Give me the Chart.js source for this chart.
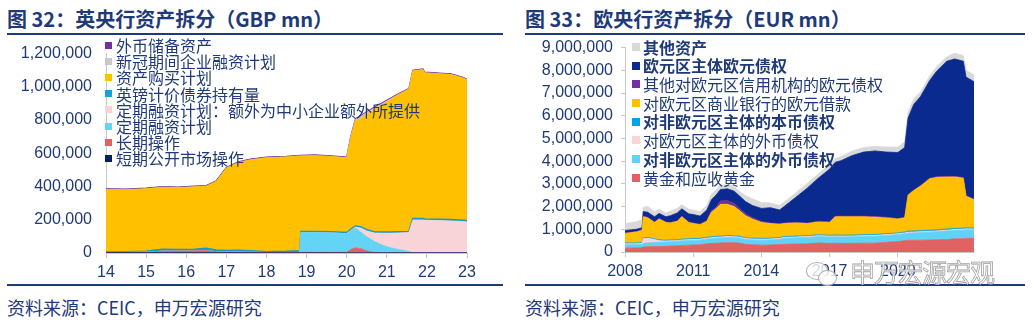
<!DOCTYPE html>
<html>
<head>
<meta charset="utf-8">
<script src="https://cdn.jsdelivr.net/npm/chart.js@4.4.0/dist/chart.umd.min.js"></script>
<style>
  body { margin: 0; width: 1033px; height: 322px; background: #fff; position: relative; overflow: hidden;
         font-family: "Noto Sans CJK SC", "Noto Sans", sans-serif; color: #1f3a78; }
  .title { position: absolute; top: 5px; font-size: 20px; font-weight: bold; line-height: 28px; white-space: nowrap; }
  .rule { position: absolute; height: 2px; background: #1f3a78; }
  .src { position: absolute; top: 294px; font-size: 18px; line-height: 26px; white-space: nowrap; }
  .box { position: absolute; top: 30px; height: 260px; }
  .legend { position: absolute; font-size: 16px; white-space: nowrap; }
  .legend div { position: relative; padding-left: 11px; }
  .legend i { position: absolute; left: 0; }
  #ukLegend { left: 105px; top: 37px; line-height: 16.2px; }
  #ukLegend i { width: 7px; height: 7px; top: 4.6px; }
  #euLegend { left: 632px; top: 37.6px; line-height: 18.7px; }
  #euLegend i { width: 8px; height: 8px; top: 5.3px; }
  .wm { position: absolute; left: 850px; top: 256px; font-size: 25px; line-height: 30px; color: rgba(255,255,255,0.85);
        letter-spacing: -1px; -webkit-text-stroke: 0.8px #a0a0a0; }
  .bubble { position: absolute; border: 1.5px solid #b0b0b0; border-radius: 50%; background: rgba(255,255,255,0.8); }
</style>
</head>
<body>
<div class="title" style="left:7px">图 32：英央行资产拆分（GBP mn）</div>
<div class="rule" style="left:7px; top:33px; width:496px"></div>
<div class="title" style="left:525px">图 33：欧央行资产拆分（EUR mn）</div>
<div class="rule" style="left:525px; top:33px; width:500px"></div>

<div class="box" style="left:0; width:505px"><canvas id="ukChart"></canvas></div>
<div class="box" style="left:515px; width:518px"><canvas id="euChart"></canvas></div>

<div class="legend" id="ukLegend"></div>
<div class="legend" id="euLegend"></div>

<div class="rule" style="left:7px; top:284px; width:496px"></div>
<div class="rule" style="left:525px; top:284px; width:500px"></div>
<div class="src" style="left:7px">资料来源：CEIC，申万宏源研究</div>
<div class="src" style="left:525px">资料来源：CEIC，申万宏源研究</div>

<div class="bubble" style="left:806px; top:262px; width:20px; height:16px"></div>
<div class="bubble" style="left:818px; top:270px; width:17px; height:14px"></div>
<div class="wm">申万宏源宏观</div>

<script>
// ---- Bank of England, GBP mn ----
const ukDates = [2014.0, 2014.5, 2015.0, 2015.4, 2015.8, 2016.2, 2016.5, 2016.75, 2017.0, 2017.3,
  2017.6, 2018.0, 2018.5, 2018.83, 2018.86, 2019.2, 2019.6, 2020.0, 2020.1, 2020.22,
  2020.35, 2020.5, 2020.7, 2020.9, 2021.1, 2021.3, 2021.55, 2021.65, 2021.9, 2021.95,
  2022.3, 2022.6, 2022.9, 2023.0];
const ukShortOmo = [2000, 2000, 2000, 2000, 2000, 2000, 2000, 2000, 2000, 2000,
  2000, 1000, 1000, 1000, 1000, 1000, 1000, 1000, 1000, 1000,
  1000, 1000, 1000, 1000, 1000, 1000, 1000, 1000, 1000, 1000,
  1000, 1000, 1000, 1000];
const ukLongOps = [2000, 2000, 3000, 9000, 10000, 11000, 12000, 6000, 4000, 4000,
  3000, 2000, 2000, 2000, 3000, 3000, 3000, 3000, 20000, 30000,
  25000, 12000, 2000, 0, 0, 0, 0, 0, 0, 0,
  0, 0, 0, 0];
const ukTfs = [0, 0, 0, 0, 0, 0, 0, 0, 0, 0,
  0, 0, 0, 0, 119000, 119000, 117000, 112000, 115000, 120000,
  100000, 85000, 65000, 45000, 30000, 20000, 8000, 0, 0, 0,
  0, 0, 0, 0];
const ukTfsme = [0, 0, 0, 0, 0, 0, 0, 0, 0, 0,
  0, 0, 0, 0, 0, 0, 0, 0, 0, 5000,
  25000, 35000, 52000, 73000, 88000, 100000, 114000, 198000, 198000, 196000,
  194000, 192000, 188000, 186000];
const ukSterlingBonds = [4000, 3000, 6000, 11000, 9000, 9000, 14000, 10000, 9000, 10000,
  8000, 5000, 7000, 11000, 7000, 7000, 7000, 7000, 7000, 7000,
  7000, 7000, 7000, 7000, 7000, 7000, 7000, 8000, 8000, 8000,
  8000, 8000, 8000, 8000];
const ukApf = [374000, 374000, 375000, 374000, 372000, 376000, 374000, 413000, 496000, 528000,
  548000, 565000, 568000, 570000, 454000, 456000, 453000, 450000, 549000, 633000,
  652000, 694000, 737000, 767000, 798000, 826000, 856000, 889000, 897000, 879000,
  876000, 873000, 857000, 846000];
const ukCcff = [0, 0, 0, 0, 0, 0, 0, 0, 0, 0,
  0, 0, 0, 0, 0, 0, 0, 0, 4000, 8000,
  12000, 12000, 10000, 8000, 5000, 2000, 0, 0, 0, 0,
  0, 0, 0, 0];
const ukFxReserves = [4000, 4000, 4000, 4000, 4000, 4000, 4000, 4000, 4000, 4000,
  4000, 4000, 4000, 4000, 4000, 4000, 4000, 4000, 4000, 4000,
  4000, 4000, 4000, 4000, 4000, 4000, 4000, 4000, 4000, 4000,
  4000, 4000, 4000, 4000];

// ---- ECB, EUR mn ----
const euDates = [2008.0, 2008.5, 2008.75, 2008.8, 2009.0, 2009.3, 2009.5, 2009.8, 2010.0, 2010.3,
  2010.5, 2010.8, 2011.0, 2011.3, 2011.6, 2011.8, 2012.0, 2012.2, 2012.5, 2012.8,
  2013.0, 2013.3, 2013.6, 2014.0, 2014.4, 2014.8, 2015.0, 2015.5, 2016.0, 2016.5,
  2017.0, 2017.25, 2017.5, 2018.0, 2018.5, 2019.0, 2019.5, 2020.0, 2020.3, 2020.45,
  2020.7, 2021.0, 2021.4, 2021.7, 2022.15, 2022.5, 2022.88, 2023.0, 2023.35];
const euGold = [170000, 180000, 190000, 220000, 230000, 240000, 240000, 250000, 260000, 270000,
  290000, 300000, 310000, 320000, 360000, 380000, 390000, 400000, 410000, 410000,
  400000, 340000, 320000, 300000, 310000, 330000, 340000, 350000, 360000, 400000,
  380000, 390000, 380000, 380000, 390000, 390000, 430000, 460000, 500000, 520000,
  520000, 520000, 530000, 540000, 550000, 580000, 580000, 600000, 600000];
const euFxNonEa = [150000, 140000, 140000, 160000, 170000, 180000, 190000, 190000, 190000, 190000,
  200000, 200000, 200000, 200000, 210000, 210000, 220000, 220000, 230000, 220000,
  220000, 210000, 210000, 220000, 220000, 230000, 260000, 270000, 280000, 280000,
  280000, 280000, 280000, 290000, 290000, 300000, 300000, 300000, 300000, 310000,
  320000, 330000, 340000, 350000, 370000, 370000, 380000, 380000, 370000];
const euFxEa = [40000, 40000, 50000, 200000, 200000, 130000, 70000, 40000, 40000, 40000,
  40000, 40000, 40000, 40000, 40000, 40000, 40000, 40000, 40000, 40000,
  40000, 40000, 40000, 40000, 40000, 40000, 40000, 40000, 40000, 40000,
  40000, 40000, 40000, 40000, 40000, 40000, 40000, 40000, 40000, 40000,
  40000, 40000, 40000, 40000, 40000, 40000, 40000, 40000, 40000];
const euEurNonEa = [40000, 40000, 40000, 40000, 40000, 30000, 40000, 40000, 40000, 40000,
  40000, 40000, 40000, 40000, 40000, 40000, 40000, 40000, 40000, 40000,
  40000, 40000, 40000, 40000, 40000, 40000, 40000, 40000, 40000, 40000,
  40000, 40000, 40000, 40000, 40000, 40000, 40000, 40000, 40000, 50000,
  50000, 50000, 50000, 50000, 50000, 50000, 50000, 50000, 50000];
const euBankLoans = [420000, 480000, 530000, 930000, 860000, 720000, 910000, 780000, 750000, 810000,
  980000, 720000, 660000, 600000, 700000, 1080000, 1210000, 1400000, 1380000, 1290000,
  1150000, 970000, 840000, 700000, 640000, 580000, 570000, 580000, 530000, 560000,
  560000, 800000, 810000, 800000, 790000, 760000, 690000, 610000, 620000, 1580000,
  1770000, 1960000, 2260000, 2300000, 2290000, 2260000, 2200000, 1380000, 1240000];
const euOtherCredit = [20000, 20000, 20000, 30000, 30000, 20000, 20000, 20000, 20000, 20000,
  20000, 20000, 30000, 30000, 30000, 50000, 70000, 150000, 160000, 140000,
  100000, 80000, 60000, 40000, 30000, 30000, 30000, 30000, 30000, 30000,
  30000, 30000, 30000, 30000, 30000, 30000, 30000, 30000, 30000, 30000,
  30000, 30000, 30000, 30000, 30000, 30000, 30000, 30000, 30000];
const euSecurities = [110000, 100000, 100000, 200000, 220000, 230000, 230000, 230000, 300000, 350000,
  330000, 360000, 370000, 350000, 470000, 500000, 530000, 500000, 520000, 540000,
  550000, 540000, 540000, 580000, 670000, 600000, 720000, 1090000, 1520000, 1900000,
  2320000, 2370000, 2440000, 2670000, 2820000, 2890000, 2870000, 2900000, 3070000, 3370000,
  3770000, 3920000, 4300000, 4640000, 5070000, 5170000, 5120000, 5220000, 5170000];
const euOther = [300000, 330000, 350000, 190000, 250000, 230000, 180000, 170000, 200000, 200000,
  180000, 200000, 200000, 200000, 200000, 250000, 220000, 200000, 180000, 220000,
  200000, 260000, 300000, 260000, 210000, 200000, 200000, 200000, 200000, 200000,
  200000, 170000, 180000, 200000, 200000, 200000, 220000, 240000, 250000, 250000,
  250000, 200000, 200000, 200000, 200000, 250000, 250000, 300000, 300000];
const euYearTicks = [2008, 2011, 2014, 2017, 2020];

// stacking order: bottom layer first
const ukLayers = [
  { name: '短期公开市场操作', values: ukShortOmo, color: '#002060' },
  { name: '长期操作', values: ukLongOps, color: '#e06262' },
  { name: '定期融资计划', values: ukTfs, color: '#64d4f6' },
  { name: '定期融资计划：额外为中小企业额外所提供', values: ukTfsme, color: '#f8d3d8' },
  { name: '英镑计价债券持有量', values: ukSterlingBonds, color: '#12a3dc', line: '#1a98c8', width: 1.5 },
  { name: '资产购买计划', values: ukApf, color: '#ffc000' },
  { name: '新冠期间企业融资计划', values: ukCcff, color: '#c8c8c8' },
  { name: '外币储备资产', values: ukFxReserves, color: '#7030a0', width: 1.2 }
];
const euLayers = [
  { name: '黄金和应收黄金', values: euGold, color: '#e06262' },
  { name: '对非欧元区主体的外币债权', values: euFxNonEa, color: '#5fd3f7', bold: true },
  { name: '对欧元区主体的外币债权', values: euFxEa, color: '#f9d5da' },
  { name: '对非欧元区主体的本币债权', values: euEurNonEa, color: '#00a3e6', bold: true },
  { name: '对欧元区商业银行的欧元借款', values: euBankLoans, color: '#ffc000' },
  { name: '其他对欧元区信用机构的欧元债权', values: euOtherCredit, color: '#7030a0' },
  { name: '欧元区主体欧元债权', values: euSecurities, color: '#0a2a8f', bold: true },
  { name: '其他资产', values: euOther, color: '#d9d9d9', bold: true }
];

const axisColor = '#c8c8c8';
const labelFont = { family: '"Liberation Sans", Arial, sans-serif', size: 16 };
const labelColor = '#1f3a78';

function makeStack(id, dates, layers, o) {
  return new Chart(document.getElementById(id), {
    type: 'line',
    data: {
      datasets: layers.map((s, i) => ({
        label: s.name,
        data: dates.map((d, j) => ({ x: d, y: s.values[j] })),
        backgroundColor: s.color,
        borderColor: s.line || s.color,
        borderWidth: s.width || 0.8,
        fill: i === 0 ? 'origin' : '-1',
        pointRadius: 0,
        tension: 0
      }))
    },
    options: {
      responsive: true,
      maintainAspectRatio: false,
      animation: false,
      layout: { padding: { top: o.padTop, right: o.padRight, left: 0, bottom: 0 } },
      plugins: { legend: { display: false }, tooltip: { enabled: false } },
      scales: {
        x: {
          type: 'linear',
          min: o.xMin,
          max: o.xMax,
          afterBuildTicks: o.xTicks ? (ax) => { ax.ticks = o.xTicks.map(v => ({ value: v })); } : undefined,
          afterFit: (ax) => { ax.height = o.xHeight; },
          ticks: {
            stepSize: 1,
            autoSkip: false,
            maxRotation: 0,
            padding: 5,
            font: labelFont,
            color: labelColor,
            callback: o.xLabel
          },
          grid: { drawOnChartArea: false, drawTicks: true, tickLength: 5, color: axisColor },
          border: { color: axisColor }
        },
        y: {
          stacked: true,
          min: 0,
          max: o.yMax,
          afterFit: (ax) => { ax.width = o.yWidth; },
          ticks: {
            stepSize: o.yStep,
            padding: o.yPad,
            font: labelFont,
            color: labelColor,
            callback: (v) => v.toLocaleString('en-US')
          },
          grid: { drawOnChartArea: false, drawTicks: o.yTickMarks, tickLength: 4, color: axisColor },
          border: { color: axisColor }
        }
      }
    }
  });
}

makeStack('ukChart', ukDates, ukLayers, {
  padTop: 15, padRight: 38, xHeight: 37, yWidth: 106, yPad: 14, yTickMarks: false,
  xMin: 2014, xMax: 2023, yMax: 1200000, yStep: 200000,
  xLabel: (v) => String(v).slice(2)
});

makeStack('euChart', euDates, euLayers, {
  padTop: 16, padRight: 59, xHeight: 38, yWidth: 110, yPad: 8, yTickMarks: true,
  xMin: 2008, xMax: 2023.35, yMax: 9000000, yStep: 1000000, xTicks: euYearTicks,
  xLabel: (v) => String(v)
});

// legends list the top layer first
function fillLegend(id, layers) {
  const el = document.getElementById(id);
  layers.slice().reverse().forEach(s => {
    const row = document.createElement('div');
    const sw = document.createElement('i');
    sw.style.background = s.color;
    row.appendChild(sw);
    row.appendChild(document.createTextNode(s.name));
    if (s.bold) row.style.fontWeight = 'bold';
    el.appendChild(row);
  });
}
fillLegend('ukLegend', ukLayers);
fillLegend('euLegend', euLayers);
</script>
</body>
</html>
